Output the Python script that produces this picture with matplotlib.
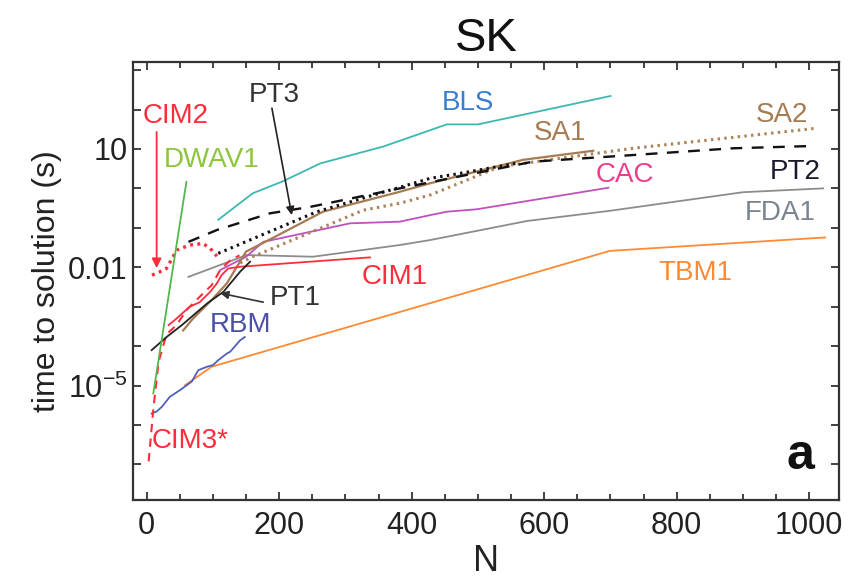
import matplotlib
matplotlib.use("Agg")
import matplotlib.pyplot as plt
from matplotlib.ticker import FixedLocator, FuncFormatter, MultipleLocator, NullFormatter

plt.rcParams['font.family'] = ['Liberation Sans', 'DejaVu Sans']
plt.rcParams['mathtext.fontset'] = 'custom'
plt.rcParams['mathtext.rm'] = 'Liberation Sans'

# ---------------- data ----------------
BLS_N = [108, 160, 205, 262, 357, 453, 500, 700]
BLS_T = [0.16, 0.75, 1.5, 4.3, 11.5, 42, 42, 220]

SA1_N = [55, 70, 100, 121, 150, 190, 266, 382, 428, 568, 674]
SA1_T = [2.5e-4, 5e-4, 1.6e-3, 3.9e-3, 0.025, 0.055, 0.256, 0.82, 1.35, 5.3, 9.0]

SA2_N = [141, 160, 327, 382, 428, 533, 734, 1011]
SA2_T = [0.0128, 0.0185, 0.28, 0.42, 0.68, 3.56, 10.4, 33.5]

PT2_N = [63, 106, 186, 247, 382, 483, 583, 699, 885, 1006]
PT2_T = [0.044, 0.088, 0.233, 0.34, 1.0, 2.19, 4.76, 6.4, 10.4, 11.9]

PT3_N = [108, 257, 428, 473, 560]
PT3_T = [0.0225, 0.256, 1.8, 2.4, 4.4]

CAC_N = [111, 150, 176, 307, 382, 428, 453, 498, 697]
CAC_T = [0.0085, 0.0185, 0.044, 0.13, 0.143, 0.21, 0.256, 0.295, 1.04]

FDA1_N = [63, 151, 251, 382, 428, 574, 699, 900, 1021]
FDA1_T = [0.0057, 0.0204, 0.0185, 0.0366, 0.049, 0.149, 0.27, 0.80, 1.0]

TBM1_N = [58, 98, 699, 1024]
TBM1_T = [1.02e-5, 3e-5, 0.026, 0.057]

RBM_N = [7.5, 15, 23, 35, 50, 68, 78, 91, 100, 108, 121, 126, 141, 148]
RBM_T = [1.96e-6, 2.2e-6, 2.9e-6, 5.2e-6, 7.6e-6, 1.26e-5, 2.46e-5, 3e-5,
         3.3e-5, 4.4e-5, 6.5e-5, 7.2e-5, 1.4e-4, 1.7e-4]

CIM1_N = [33, 45, 65, 80, 96, 106, 113, 123, 141, 337]
CIM1_T = [3.4e-4, 5e-4, 1e-3, 1.3e-3, 2.4e-3, 3.9e-3, 6.3e-3, 9.3e-3, 0.0103, 0.0178]

CIM2_N = [8, 20, 30, 45, 65, 85, 96, 106]
CIM2_T = [0.0063, 0.0077, 0.0093, 0.027, 0.0366, 0.040, 0.030, 0.019]

CIM3_N = [3, 10, 18, 30, 45, 60, 83, 98, 111, 126, 140]
CIM3_T = [1.2e-7, 2.5e-6, 4e-5, 2e-4, 3.4e-4, 8.2e-4, 2e-3, 3.5e-3, 8.5e-3, 0.015, 0.02]

PT1_N = [7.5, 30, 53, 91, 116, 141, 156]
PT1_T = [7.9e-5, 1.7e-4, 3.4e-4, 1.2e-3, 2.4e-3, 7.7e-3, 0.0138]

DWAV1_N = [10, 35]
DWAV1_T = [6.3e-6, 3.05e-3]

X_TICKS = [0, 200, 400, 600, 800, 1000]
Y_LABELED = {1e-5: r'$\mathregular{10^{-5}}$', 1e-2: '0.01', 1e1: '10'}

# ---------------- colours ----------------
C_TEAL = '#3cb8b2'
C_BROWN = '#a67c52'
C_BROWN_DOT = '#ab845a'
C_MAG = '#c050c0'
C_GRAY = '#8c8c8c'
C_ORANGE = '#ff8a33'
C_BLUE = '#5060b8'
C_RED = '#ff2d3c'
C_GREEN = '#52b84a'
C_BLACK = '#111111'

fig = plt.figure(figsize=(8.64, 5.79), dpi=100)
ax = fig.add_axes([0.1539, 0.1364, 0.8172, 0.757])

lw = 1.3
ax.plot(TBM1_N, TBM1_T, color=C_ORANGE, lw=lw)
ax.plot(FDA1_N, FDA1_T, color=C_GRAY, lw=lw)
ax.plot(CAC_N, CAC_T, color=C_MAG, lw=lw)
ax.plot(BLS_N, BLS_T, color=C_TEAL, lw=lw)
ax.plot(RBM_N, RBM_T, color=C_BLUE, lw=lw)
ax.plot(SA2_N, SA2_T, color=C_BROWN_DOT, lw=2.2, linestyle=(0, (0.8, 1.4)))
ax.plot(SA1_N, SA1_T, color=C_BROWN, lw=1.6)
ax.plot(PT3_N, PT3_T, color=C_BLACK, lw=2.2, linestyle=(0, (0.8, 1.4)))
ax.plot(PT2_N, PT2_T, color=C_BLACK, lw=1.7, linestyle=(0, (5, 4)))
ax.plot(CIM1_N, CIM1_T, color=C_RED, lw=lw)
ax.plot(CIM3_N, CIM3_T, color=C_RED, lw=1.5, linestyle=(0, (4, 3)))
ax.plot(CIM2_N, CIM2_T, color=C_RED, lw=2.4, linestyle=(0, (0.9, 1.3)))
ax.plot(PT1_N, PT1_T, color='#222222', lw=lw)
ax.plot(DWAV1_N, DWAV1_T, color=C_GREEN, lw=lw)

# leader / arrows
ax.annotate('', xy=(DWAV1_N[-1], DWAV1_T[-1]), xytext=(60, 1.48),
            arrowprops=dict(arrowstyle='-', color=C_GREEN, lw=lw, shrinkA=0, shrinkB=0))
ax.annotate('', xy=(15, 9.5e-3), xytext=(15, 27),
            arrowprops=dict(arrowstyle='-|>', color=C_RED, lw=1.3, mutation_scale=14,
                            shrinkA=0, shrinkB=0))
ax.annotate('', xy=(219, 0.21), xytext=(189, 108),
            arrowprops=dict(arrowstyle='-|>', color='#222222', lw=1.2, mutation_scale=12,
                            shrinkA=0, shrinkB=0))
ax.annotate('', xy=(111, 2.2e-3), xytext=(176, 1.3e-3),
            arrowprops=dict(arrowstyle='-|>', color='#333333', lw=1.2, mutation_scale=12,
                            shrinkA=0, shrinkB=0))

fs = 20
labels = [
    ('CIM2', 43, 69, C_RED),
    ('DWAV1', 98, 5.3, '#8cc63f'),
    ('PT3', 192, 235, '#333333'),
    ('BLS', 485, 148, '#3a7fcf'),
    ('SA1', 624, 25, C_BROWN),
    ('SA2', 959, 73, C_BROWN),
    ('CAC', 722, 2.19, '#f03c8c'),
    ('PT2', 979, 2.6, '#1a1a2a'),
    ('FDA1', 956, 0.238, '#7a8490'),
    ('CIM1', 375, 5.6e-3, C_RED),
    ('TBM1', 828, 7.1e-3, C_ORANGE),
    ('PT1', 224, 1.66e-3, '#333333'),
    ('RBM', 141, 3.4e-4, '#4a50a8'),
    ('CIM3*', 65, 3.9e-7, C_RED),
]
for txt, x, y, c in labels:
    ax.text(x, y, txt, color=c, fontsize=fs, ha='center', va='center')

ax.text(0.945, 0.10, 'a', transform=ax.transAxes, fontsize=36, fontweight='bold',
        ha='center', va='center', color='#111111')

# axes
ax.set_yscale('log')
ax.set_xlim(-20.7, 1045)
ax.set_ylim(1.25e-8, 1.63e3)

ax.xaxis.set_major_locator(FixedLocator(X_TICKS))
ax.xaxis.set_minor_locator(MultipleLocator(50))
ax.yaxis.set_major_locator(FixedLocator([10.0 ** k for k in range(-8, 4)]))
ax.yaxis.set_minor_locator(FixedLocator([]))


def yfmt(v, pos):
    for key, lab in Y_LABELED.items():
        if abs(v / key - 1) < 1e-6:
            return lab
    return ''


ax.yaxis.set_major_formatter(FuncFormatter(yfmt))
ax.tick_params(which='both', direction='in', top=True, right=True, width=1.2,
               labelsize=22, colors='#222222')
ax.tick_params(which='major', length=6)
ax.tick_params(which='minor', length=4)
ax.tick_params(axis='y', which='major', length=6, pad=4)
ax.tick_params(axis='x', pad=8)
for s in ax.spines.values():
    s.set_linewidth(1.6)
    s.set_color('#333333')

ax.set_xlabel('N', fontsize=26, labelpad=2, color='#222222')
ax.set_ylabel('time to solution (s)', fontsize=23, labelpad=4, color='#222222')
ax.set_title('SK', fontsize=34, pad=8, color='#111111')

fig.savefig('out.png', dpi=100)
